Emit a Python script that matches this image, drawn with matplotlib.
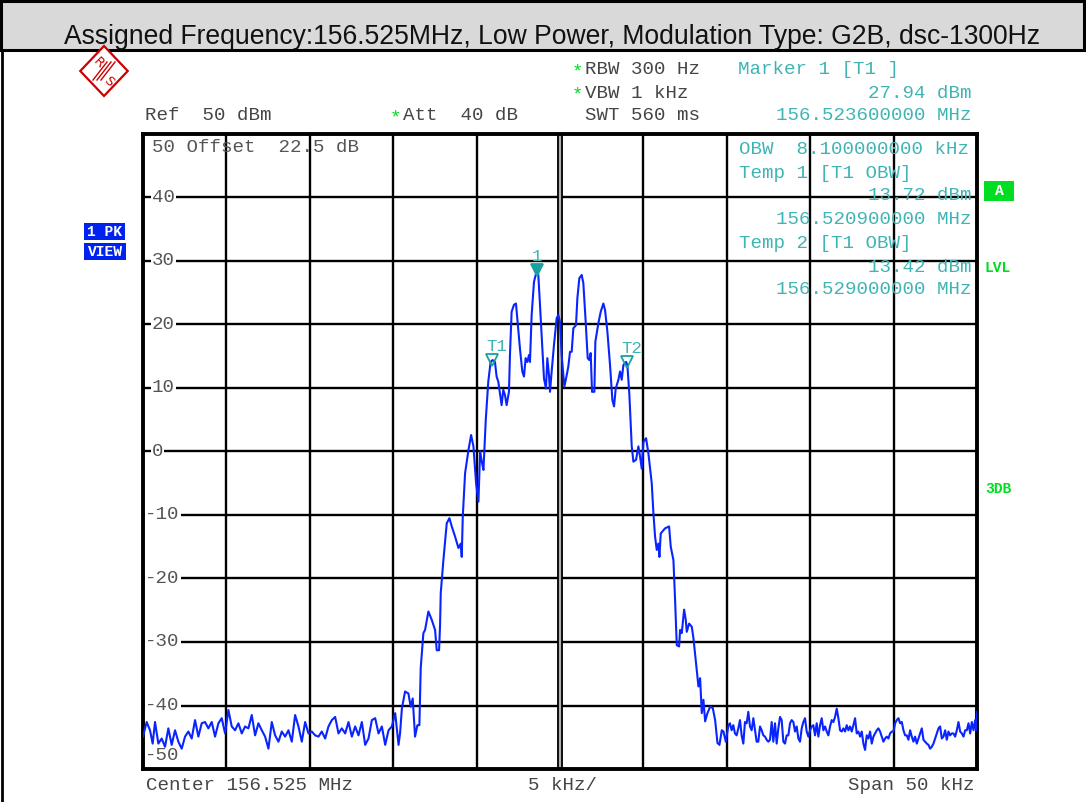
import matplotlib
matplotlib.use("Agg")
import matplotlib.pyplot as plt
from matplotlib.patches import Rectangle, Polygon
from matplotlib.lines import Line2D
from matplotlib.transforms import offset_copy
import numpy as np

W, H = 1086, 802
MONO = "Liberation Mono"
TEAL = "#40b4b4"
GREEN = "#00dd22"
BLUE = "#0a24ff"
GRAY = "#454545"

# trace, offset from centre in kHz / level in dBm
left_noise = [
    (-25.0, -44.9), (-24.78, -42.6), (-24.58, -43.9), (-24.42, -46.0), (-24.28, -42.6),
    (-24.08, -46.0), (-23.88, -45.2), (-23.68, -46.5), (-23.48, -43.6), (-23.28, -46.2),
    (-23.08, -43.9), (-22.88, -45.7), (-22.68, -46.8), (-22.48, -44.9), (-22.28, -44.1),
    (-22.08, -45.2), (-21.88, -42.3), (-21.68, -44.9), (-21.48, -42.8), (-21.28, -42.6),
    (-21.08, -43.6), (-20.88, -42.6), (-20.68, -44.9), (-20.48, -42.8), (-20.28, -42.0),
    (-20.08, -44.4), (-19.88, -40.7), (-19.68, -43.3), (-19.48, -43.9), (-19.28, -42.8),
    (-19.08, -44.4), (-18.88, -43.3), (-18.68, -43.6), (-18.48, -41.5), (-18.28, -44.7),
    (-18.08, -42.8), (-17.88, -43.9), (-17.68, -44.9), (-17.48, -46.8), (-17.28, -42.6),
    (-17.08, -44.7), (-16.88, -45.7), (-16.68, -44.1), (-16.48, -44.9), (-16.28, -43.9),
    (-16.08, -45.7), (-15.88, -41.5), (-15.68, -43.3), (-15.48, -45.7), (-15.28, -42.6),
    (-15.08, -44.4), (-14.88, -44.1), (-14.68, -44.7), (-14.48, -44.9), (-14.28, -44.1),
    (-14.08, -45.2), (-13.88, -43.3), (-13.68, -42.3), (-13.48, -41.8), (-13.28, -44.4),
    (-13.08, -43.6), (-12.88, -44.4), (-12.68, -42.6), (-12.48, -44.9), (-12.28, -43.3),
    (-12.08, -44.7), (-11.88, -42.6), (-11.68, -46.2), (-11.48, -45.2), (-11.28, -42.3),
    (-11.08, -42.0), (-10.88, -44.4), (-10.68, -43.3), (-10.48, -46.2), (-10.28, -43.9),
    (-10.08, -43.3), (-9.88, -41.2),
]

signal = [
    (-9.68, -46.2), (-9.59, -44.4), (-9.48, -40.5), (-9.29, -37.8), (-9.09, -38.1),
    (-8.95, -40.2), (-8.83, -38.9), (-8.69, -44.9), (-8.55, -43.1), (-8.43, -43.1),
    (-8.35, -34.1), (-8.19, -28.6), (-8.09, -28.1), (-7.89, -25.2), (-7.69, -26.5),
    (-7.49, -28.1), (-7.39, -31.3), (-7.25, -31.3), (-7.19, -27.3), (-7.15, -22.3),
    (-6.99, -17.1), (-6.79, -11.3), (-6.63, -10.5), (-6.49, -11.8), (-6.29, -13.4),
    (-6.09, -15.2), (-5.95, -14.5), (-5.89, -16.6), (-5.83, -10.3), (-5.69, -3.4),
    (-5.49, 0.2), (-5.33, 2.6), (-5.19, 0.8), (-5.03, -5.0), (-4.89, -7.9),
    (-4.79, 0.0), (-4.69, -1.6), (-4.59, -2.9), (-4.45, 5.0), (-4.30, 11.0),
    (-4.16, 14.1), (-4.04, 14.4), (-3.90, 14.1), (-3.80, 11.8), (-3.70, 11.0),
    (-3.50, 7.3), (-3.40, 9.7), (-3.30, 8.9), (-3.20, 7.3), (-3.06, 9.4),
    (-3.00, 15.2), (-2.90, 22.0), (-2.76, 23.1), (-2.64, 23.3), (-2.54, 20.4),
    (-2.40, 16.2), (-2.26, 12.6), (-2.16, 11.8), (-2.06, 14.7), (-1.96, 14.1),
    (-1.86, 15.2), (-1.80, 14.1), (-1.70, 21.5), (-1.56, 26.7), (-1.44, 28.0),
    (-1.30, 27.8), (-1.20, 23.1), (-1.06, 16.2), (-0.96, 11.5), (-0.84, 9.9),
    (-0.76, 14.7), (-0.66, 12.0), (-0.60, 9.4), (-0.50, 12.6), (-0.36, 16.8),
    (-0.20, 21.0), (-0.10, 21.5), (0.00, 20.4), (0.10, 15.2), (0.26, 10.2),
    (0.40, 12.0), (0.50, 13.4), (0.60, 15.7), (0.70, 15.7), (0.80, 19.4),
    (0.96, 19.9), (1.04, 24.1), (1.16, 27.3), (1.30, 27.8), (1.40, 26.5),
    (1.54, 20.4), (1.66, 14.7), (1.76, 14.4), (1.84, 15.5), (1.92, 9.4),
    (2.06, 9.4), (2.12, 17.3), (2.30, 20.2), (2.44, 22.0), (2.60, 23.3),
    (2.70, 22.3), (2.84, 18.9), (3.00, 13.6), (3.14, 8.1), (3.24, 7.1),
    (3.34, 9.9), (3.50, 11.3), (3.60, 12.6), (3.70, 11.3), (3.80, 13.6),
    (3.96, 14.1), (4.04, 13.6), (4.16, 8.9), (4.30, 0.8), (4.40, -1.6),
    (4.56, -1.3), (4.70, 0.8), (4.80, -0.8), (4.90, -2.7), (5.00, 1.5),
    (5.16, 2.1), (5.30, -0.3), (5.50, -5.0), (5.60, -9.7), (5.70, -13.4),
    (5.80, -15.5), (5.90, -14.5), (5.96, -16.6), (6.04, -12.9), (6.30, -12.1),
    (6.54, -11.8), (6.64, -15.0), (6.80, -17.1), (6.90, -23.4), (7.00, -30.5),
    (7.14, -30.7), (7.20, -28.1), (7.30, -28.6), (7.44, -24.9), (7.54, -26.5),
    (7.60, -28.4), (7.74, -27.1), (7.90, -27.6), (8.00, -29.4), (8.16, -33.4),
    (8.30, -37.0), (8.40, -35.7), (8.50, -41.2), (8.60, -39.1), (8.70, -42.5),
    (8.84, -41.2), (9.00, -40.2), (9.16, -40.4), (9.30, -42.3), (9.44, -45.9),
    (9.56, -46.2), (9.70, -43.9), (9.80, -44.1), (9.94, -45.7), (10.10, -43.1),
]

right_noise = [
    (10.19, -42.8), (10.29, -43.9), (10.39, -43.1), (10.49, -44.4), (10.59, -44.7),
    (10.69, -43.6), (10.79, -42.3), (10.89, -44.7), (10.99, -46.0), (11.09, -42.6),
    (11.19, -42.8), (11.29, -41.0), (11.39, -43.3), (11.49, -43.9), (11.59, -42.0),
    (11.69, -43.9), (11.79, -45.7), (11.89, -45.7), (11.99, -43.3), (12.09, -43.9),
    (12.19, -44.7), (12.29, -44.9), (12.39, -45.4), (12.49, -45.7), (12.59, -45.4),
    (12.69, -42.6), (12.79, -45.7), (12.89, -42.8), (12.99, -46.0), (13.09, -43.6),
    (13.19, -41.8), (13.29, -42.3), (13.39, -45.7), (13.49, -46.0), (13.59, -44.7),
    (13.69, -44.7), (13.79, -42.8), (13.89, -42.3), (13.99, -42.6), (14.09, -44.1),
    (14.19, -43.3), (14.29, -45.2), (14.39, -45.7), (14.49, -43.6), (14.59, -42.6),
    (14.69, -42.0), (14.79, -44.1), (14.89, -44.9), (14.99, -43.9), (15.09, -43.3),
    (15.19, -43.1), (15.29, -44.7), (15.39, -42.8), (15.49, -44.9), (15.59, -43.1),
    (15.69, -42.0), (15.79, -43.9), (15.89, -43.3), (15.99, -44.1), (16.09, -44.7),
    (16.19, -43.3), (16.29, -42.3), (16.39, -42.6), (16.49, -41.8), (16.59, -40.5),
    (16.69, -42.0), (16.79, -43.9), (16.89, -44.1), (16.99, -43.6), (17.09, -44.1),
    (17.19, -43.1), (17.29, -43.9), (17.39, -43.3), (17.49, -44.1), (17.59, -43.1),
    (17.69, -42.0), (17.79, -44.4), (17.89, -44.1), (17.99, -44.9), (18.09, -44.1),
    (18.19, -46.0), (18.29, -47.0), (18.39, -44.7), (18.49, -45.2), (18.59, -44.1),
    (18.69, -46.0), (18.79, -44.9), (18.89, -44.4), (18.99, -43.9), (19.09, -43.6),
    (19.19, -44.1), (19.29, -44.9), (19.39, -45.7), (19.49, -45.2), (19.59, -44.9),
    (19.69, -45.2), (19.79, -44.4), (19.89, -44.1), (19.99, -44.1), (20.09, -42.8),
    (20.19, -42.3), (20.29, -42.0), (20.39, -42.8), (20.49, -42.6), (20.59, -43.9),
    (20.69, -44.7), (20.79, -44.7), (20.89, -45.4), (20.99, -43.9), (21.09, -44.9),
    (21.19, -45.7), (21.29, -44.9), (21.39, -46.0), (21.49, -45.2), (21.59, -44.4),
    (21.69, -43.6), (21.79, -45.4), (21.89, -45.7), (21.99, -46.0), (22.09, -46.2),
    (22.19, -46.8), (22.29, -46.5), (22.39, -46.0), (22.49, -45.2), (22.59, -44.4),
    (22.69, -43.6), (22.79, -43.3), (22.89, -45.2), (22.99, -44.9), (23.09, -43.9),
    (23.19, -45.4), (23.29, -44.1), (23.39, -44.7), (23.49, -44.4), (23.59, -44.4),
    (23.69, -44.9), (23.79, -43.9), (23.89, -42.6), (23.99, -44.1), (24.09, -44.4),
    (24.19, -44.9), (24.29, -43.9), (24.39, -43.9), (24.49, -42.8), (24.59, -44.4),
    (24.69, -42.6), (24.79, -43.9), (24.89, -42.3), (24.95, -43.9), (25.0, -41.0),
]

# markers: (offset kHz, level dBm, label, filled)
markers = [(-1.4, 27.94, "1", True), (-4.1, 13.72, "T1", False), (4.0, 13.42, "T2", False)]

y_ticks = [40, 30, 20, 10, 0, -10, -20, -30, -40]
x_ticks = list(range(-25, 26, 5))


def fx(px):
    return px / W


def fy(py):
    return 1 - py / H


fig = plt.figure(figsize=(W / 100, H / 100), dpi=100)
fig.patch.set_facecolor("white")

# header band
fig.add_artist(Rectangle((fx(1), fy(50)), fx(1083), 49 / H, transform=fig.transFigure,
                         facecolor="#d9d9d9", edgecolor="black", lw=2.2))
fig.add_artist(Line2D([fx(1.5), fx(1.5)], [0, fy(50)], transform=fig.transFigure, color="black", lw=2))
fig.text(fx(552), fy(37.5), "Assigned Frequency:156.525MHz, Low Power, Modulation Type: G2B, dsc-1300Hz",
         ha="center", va="center", fontsize=19.1, family=["Liberation Sans Narrow", "Liberation Sans"],
         color="#111111")

# R&S logo
cx, cy, r = 104, 71, 25
fig.add_artist(Polygon([(fx(cx), fy(cy - r)), (fx(cx + r * 0.95), fy(cy)), (fx(cx), fy(cy + r)),
                        (fx(cx - r * 0.95), fy(cy))], closed=True, transform=fig.transFigure,
                       facecolor="white", edgecolor="#cc0000", lw=1.6))
for k in (-4, 0, 4):
    fig.add_artist(Line2D([fx(cx - 7 + k), fx(cx + 7 + k)], [fy(cy + 9), fy(cy - 9)],
                          transform=fig.transFigure, color="#cc0000", lw=1))
fig.text(fx(cx - 6), fy(cy - 8), "R", fontsize=9.5, color="#cc0000", ha="center", va="center",
         family="DejaVu Sans", rotation=-45)
fig.text(fx(cx + 5), fy(cy + 10), "S", fontsize=9.5, color="#cc0000", ha="center", va="center",
         family="DejaVu Sans", rotation=-45)

# instrument settings
fs = 13.8
fig.text(fx(572), fy(72), "*", color=GREEN, fontsize=fs, family=MONO, ha="left", va="center")
fig.text(fx(585), fy(70), "RBW 300 Hz", color=GRAY, fontsize=fs, family=MONO, ha="left", va="center")
fig.text(fx(572), fy(95), "*", color=GREEN, fontsize=fs, family=MONO, ha="left", va="center")
fig.text(fx(585), fy(93), "VBW 1 kHz", color=GRAY, fontsize=fs, family=MONO, ha="left", va="center")
fig.text(fx(145), fy(116), "Ref  50 dBm", color=GRAY, fontsize=fs, family=MONO, ha="left", va="center")
fig.text(fx(390), fy(118), "*", color=GREEN, fontsize=fs, family=MONO, ha="left", va="center")
fig.text(fx(403), fy(116), "Att  40 dB", color=GRAY, fontsize=fs, family=MONO, ha="left", va="center")
fig.text(fx(585), fy(116), "SWT 560 ms", color=GRAY, fontsize=fs, family=MONO, ha="left", va="center")
fig.text(fx(738), fy(70), "Marker 1 [T1 ]", color=TEAL, fontsize=fs, family=MONO, ha="left", va="center")
fig.text(fx(972), fy(93), "27.94 dBm", color=TEAL, fontsize=fs, family=MONO, ha="right", va="center")
fig.text(fx(972), fy(116), "156.523600000 MHz", color=TEAL, fontsize=fs, family=MONO, ha="right", va="center")

# side badges
for (x0, y0, x1, y1, txt) in [(84, 223, 125, 240, "1 PK"), (84, 243, 126, 260, "VIEW")]:
    fig.add_artist(Rectangle((fx(x0), fy(y1)), (x1 - x0) / W, (y1 - y0) / H, transform=fig.transFigure,
                             facecolor="#0022ee", edgecolor="none"))
    fig.text(fx((x0 + x1) / 2), fy((y0 + y1) / 2), txt, color="white", fontsize=10.5, family=MONO,
             weight="bold", ha="center", va="center")
fig.add_artist(Rectangle((fx(984), fy(201)), 30 / W, 20 / H, transform=fig.transFigure,
                         facecolor=GREEN, edgecolor="none"))
fig.text(fx(999), fy(191), "A", color="white", fontsize=10.5, family=MONO, weight="bold", ha="center", va="center")
fig.text(fx(985), fy(268), "LVL", color=GREEN, fontsize=10.5, family=MONO, weight="bold", ha="left", va="center")
fig.text(fx(985), fy(489), "3DB", color=GREEN, fontsize=10.5, family=MONO, weight="bold", ha="left", va="center")

# bottom labels
fig.text(fx(146), fy(786), "Center 156.525 MHz", color=GRAY, fontsize=fs, family=MONO, ha="left", va="center")
fig.text(fx(528), fy(786), "5 kHz/", color=GRAY, fontsize=fs, family=MONO, ha="left", va="center")
fig.text(fx(975), fy(786), "Span 50 kHz", color=GRAY, fontsize=fs, family=MONO, ha="right", va="center")

# screen
ax = fig.add_axes([fx(143), fy(769), 834 / W, 635 / H])
ax.set_xlim(-25, 25)
ax.set_ylim(-50, 50)
ax.set_xticks(x_ticks)
ax.set_yticks(y_ticks)
ax.tick_params(length=0, labelbottom=False, labelleft=False)
ax.grid(True, color="black", lw=1.7)
for s in ax.spines.values():
    s.set_linewidth(2.8)
    s.set_color("black")
ax.axvline(0, color="black", lw=4.2, zorder=2.2)
ax.axvline(0, color="#b0b0b0", lw=1.6, zorder=2.3)

for v in y_ticks:
    xpos = -24.86 if v < 0 else -24.46
    ax.text(xpos, v, str(v), color="#555555", fontsize=fs, family=MONO, ha="left", va="center",
            bbox=dict(facecolor="white", edgecolor="none", pad=0.6), zorder=3)
ax.text(-24.46, 47.8, "50 Offset  22.5 dB", color="#555555", fontsize=fs, family=MONO, ha="left", va="center")
ax.text(-24.86, -47.8, "-50", color="#555555", fontsize=fs, family=MONO, ha="left", va="center")

obw_lines = [("OBW  8.100000000 kHz", 149, "left"), ("Temp 1 [T1 OBW]", 173, "left"),
             ("13.72 dBm", 196, "right"), ("156.520900000 MHz", 219, "right"),
             ("Temp 2 [T1 OBW]", 243, "left"), ("13.42 dBm", 267, "right"),
             ("156.529000000 MHz", 290, "right")]
for txt, py, al in obw_lines:
    xp = 739 if al == "left" else 972
    fig.text(fx(xp), fy(py), txt, color=TEAL, fontsize=fs, family=MONO, ha=al, va="center", zorder=1)

trace = left_noise + signal + right_noise
ax.plot([p[0] for p in trace], [p[1] for p in trace], color=BLUE, lw=1.5, zorder=4)

up = offset_copy(ax.transData, fig=fig, x=0, y=4.5, units="dots")
for f, lvl, name, filled in markers:
    ax.plot([f], [lvl], marker="v", ms=9, mew=1.3, color="#1aa0a0",
            mfc="#1aa0a0" if filled else "none", transform=up, zorder=5)
    dx = 0 if name == "1" else 5
    ax.text(f, lvl, name, color=TEAL, fontsize=12.5, family=MONO, ha="center", va="center",
            transform=offset_copy(ax.transData, fig=fig, x=dx, y=18, units="dots"), zorder=5)

fig.savefig("out.png", dpi=100)
